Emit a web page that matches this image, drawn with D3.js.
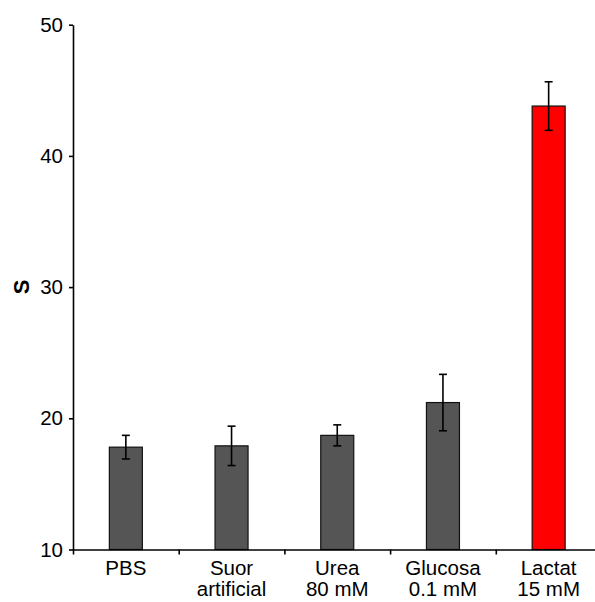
<!DOCTYPE html>
<html>
<head>
<meta charset="utf-8">
<script src="https://cdn.jsdelivr.net/npm/d3@7/dist/d3.min.js"></script>
<style>
  html, body { margin: 0; padding: 0; background: #fff; }
  svg { display: block; }
  text { font-family: "Liberation Sans", Arial, sans-serif; fill: #000; }
</style>
</head>
<body>
<svg id="chart" width="595" height="602"></svg>
<script>
// Sensor response for each test solution
const categories = ["PBS", "Suor artificial", "Urea 80 mM", "Glucosa 0.1 mM", "Lactat 15 mM"];
const labelLines = [["PBS"], ["Suor", "artificial"], ["Urea", "80 mM"], ["Glucosa", "0.1 mM"], ["Lactat", "15 mM"]];
const means = [17.8, 17.9, 18.7, 21.2, 43.8];
const errors = [0.9, 1.5, 0.8, 2.15, 1.85];
const barColors = ["#555555", "#555555", "#555555", "#555555", "#ff0000"];
const yTicks = [10, 20, 30, 40, 50];

const svg = d3.select("#chart");
const plotLeft = 73, plotRight = 601.5, plotTop = 24.7, plotBottom = 549.5;

const x = d3.scaleBand().domain(categories).range([plotLeft, plotRight]).padding(0);
const y = d3.scaleLinear().domain([10, 50]).range([plotBottom, plotTop]);
const barW = 33;

// Bars
svg.append("g").selectAll("rect")
  .data(categories)
  .join("rect")
  .attr("x", d => x(d) + x.bandwidth() / 2 - barW / 2)
  .attr("y", (d, i) => y(means[i]))
  .attr("width", barW)
  .attr("height", (d, i) => y(10) - y(means[i]))
  .attr("fill", (d, i) => barColors[i])
  .attr("stroke", "#111")
  .attr("stroke-width", 1.2);

// Error bars
const capW = 8;
const eb = svg.append("g").attr("stroke", "#000").attr("stroke-width", 1.6);
categories.forEach((c, i) => {
  const cx = x(c) + x.bandwidth() / 2;
  const y1 = y(means[i] + errors[i]), y2 = y(means[i] - errors[i]);
  eb.append("line").attr("x1", cx).attr("x2", cx).attr("y1", y1).attr("y2", y2);
  eb.append("line").attr("x1", cx - capW / 2).attr("x2", cx + capW / 2).attr("y1", y1).attr("y2", y1);
  eb.append("line").attr("x1", cx - capW / 2).attr("x2", cx + capW / 2).attr("y1", y2).attr("y2", y2);
});

// Y axis
const yAxis = svg.append("g")
  .attr("transform", `translate(${plotLeft},0)`)
  .call(d3.axisLeft(y).tickValues(yTicks).tickSize(4).tickSizeOuter(0).tickPadding(6));
yAxis.selectAll("text").style("font-size", "20.5px").attr("fill", "#000");
yAxis.selectAll("line, path").attr("stroke", "#000").attr("stroke-width", 1.6);

// X axis with ticks at category boundaries
const xb = d3.scaleLinear().domain([0, categories.length]).range([plotLeft, plotRight]);
const xAxis = svg.append("g")
  .attr("transform", `translate(0,${plotBottom})`)
  .call(d3.axisBottom(xb).tickValues(d3.range(categories.length + 1)).tickSize(5).tickSizeOuter(0).tickFormat(""));
xAxis.selectAll("line, path").attr("stroke", "#000").attr("stroke-width", 1.6);

// Category labels (two lines each where needed)
const lab = svg.append("g");
categories.forEach((c, i) => {
  const t = lab.append("text")
    .attr("x", x(c) + x.bandwidth() / 2)
    .attr("y", 575)
    .attr("text-anchor", "middle")
    .style("font-size", "20.5px");
  labelLines[i].forEach((ln, j) => {
    t.append("tspan").attr("x", x(c) + x.bandwidth() / 2).attr("dy", j === 0 ? 0 : 21).text(ln);
  });
});

// Y axis title
svg.append("text")
  .attr("transform", `translate(29,287) rotate(-90)`)
  .attr("text-anchor", "middle")
  .style("font-size", "22px")
  .style("font-weight", "bold")
  .text("S");
</script>
</body>
</html>
